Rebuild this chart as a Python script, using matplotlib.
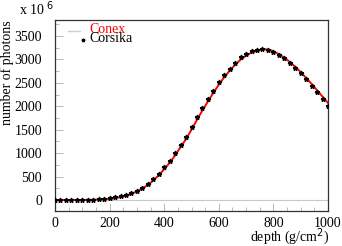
import matplotlib
matplotlib.use("Agg")
import matplotlib.pyplot as plt
from matplotlib.ticker import MultipleLocator
from matplotlib.lines import Line2D

depth = list(range(0, 1001, 20))
corsika = [0, 0, 1, 1, 2, 3, 5, 8, 13, 21, 34, 55, 83, 115, 152, 199, 265, 338,
           440, 555, 695, 839, 996, 1180, 1351, 1551, 1765, 1963, 2150, 2333,
           2518, 2668, 2800, 2925, 3045, 3120, 3180, 3205, 3222, 3205, 3160,
           3100, 3024, 2930, 2824, 2703, 2575, 2433, 2298, 2155, 2000]
conex = [0, 0, 0, 1, 1, 2, 3, 5, 9, 15, 25, 40, 62, 92, 132, 185, 245, 320,
         415, 530, 655, 795, 950, 1130, 1300, 1500, 1710, 1910, 2100, 2285,
         2460, 2620, 2760, 2885, 2995, 3080, 3145, 3190, 3215, 3212, 3175,
         3110, 3035, 2945, 2843, 2728, 2605, 2475, 2340, 2205, 2070]
labels = ['Conex', 'Corsika']

plt.rcParams['font.family'] = ['Liberation Serif', 'DejaVu Serif']
fs = 10

W, H = 342, 246
fig = plt.figure(figsize=(W/100, H/100), dpi=100)
ax = fig.add_axes([55/W, 1-211/H, (328-55)/W, (211-20)/H])

ax.axhline(0, color='#c8c8c8', lw=0.8, zorder=1)
ax.plot(depth, conex, color='red', lw=1.4, zorder=2)
ax.plot(depth, corsika, ls='none', marker='*', ms=3.5, color='black', zorder=3)

ax.set_xlim(0, 1000)
ax.set_ylim(-235, 3840)
ax.xaxis.set_major_locator(MultipleLocator(200))
ax.xaxis.set_minor_locator(MultipleLocator(50))
ax.yaxis.set_major_locator(MultipleLocator(500))
ax.yaxis.set_minor_locator(MultipleLocator(250))
ax.tick_params(which='both', direction='in', color='#b0b0b0', labelsize=fs,
               top=False, right=False)
ax.tick_params(which='major', length=6, width=0.6)
ax.tick_params(which='minor', length=3, width=0.6)
ax.tick_params(axis='y', which='major', pad=9.4)
ax.tick_params(axis='x', which='major', pad=4.3)
for s in ax.spines.values():
    s.set_color('#333333')
    s.set_linewidth(0.9)

fig.text(7/W, 1-20/H, 'number of photons', rotation=90, ha='center',
         va='top', fontsize=fs)
fig.text(19/W, 1-9/H, r'x 10$^{\ 6}$', ha='left', va='center', fontsize=fs)
fig.text(329/W, 1-240.5/H, r'depth (g/cm$^{2}$)', ha='right', va='baseline',
         fontsize=fs)

# legend (ROOT style, drawn by hand)
fig.add_artist(Line2D([68/W, 80/W], [1-31/H, 1-31/H], color='#d0d0d0', lw=1))
fig.add_artist(Line2D([82.5/W], [1-39.5/H], ls='none', marker='*', ms=2.5,
                      color='black'))
fig.text(89/W, 1-33/H, labels[0], color='red', ha='left', va='baseline',
         fontsize=fs)
fig.text(89.5/W, 1-42.5/H, labels[1], color='black', ha='left', va='baseline',
         fontsize=fs)

fig.savefig('out.png', dpi=100)
